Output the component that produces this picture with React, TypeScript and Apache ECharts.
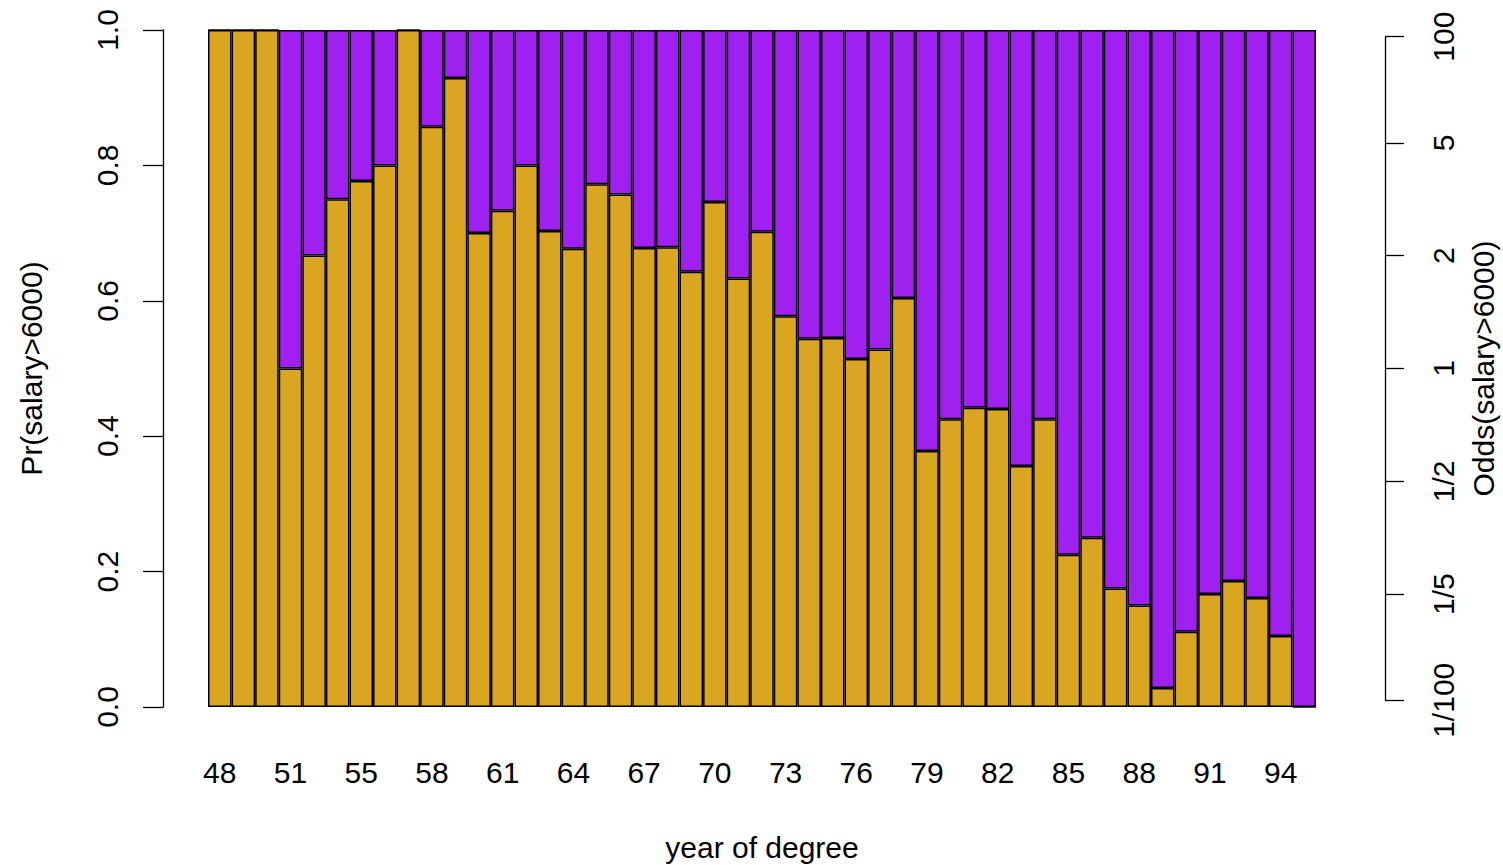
import React, { useEffect, useRef } from "react";
import * as echarts from "echarts";

const years = [
  48, 49, 50, 51, 52, 54, 55, 56, 57, 58, 59, 60, 61, 62, 63, 64, 65, 66, 67, 68, 69, 70, 71, 72,
  73, 74, 75, 76, 77, 78, 79, 80, 81, 82, 83, 84, 85, 86, 87, 88, 89, 90, 91, 92, 93, 94, 95,
];

const highShare = [
  1, 1, 1, 0.5, 0.667, 0.75, 0.777, 0.8, 1, 0.857, 0.929, 0.7, 0.733, 0.8, 0.703, 0.677, 0.772,
  0.757, 0.678, 0.679, 0.643, 0.746, 0.633, 0.702, 0.577, 0.544, 0.545, 0.514, 0.528, 0.604, 0.378,
  0.425, 0.442, 0.44, 0.356, 0.425, 0.225, 0.25, 0.175, 0.15, 0.028, 0.111, 0.167, 0.186, 0.161,
  0.105, 0,
];

const lowShare = highShare.map((v) => +(1 - v).toFixed(3));

const probTicks = [0, 0.2, 0.4, 0.6, 0.8, 1.0];
const oddsTicks = [1 / 100, 1 / 5, 1 / 2, 1, 2, 5, 100];
const oddsLabels = ["1/100", "1/5", "1/2", "1", "2", "5", "100"];

const W = 1503;
const H = 865;
const GRID_LEFT = 208;
const GRID_RIGHT = 187;
const GRID_TOP = 30;
const GRID_HEIGHT = 677;
const FONT = "'Liberation Sans', Arial, Helvetica, sans-serif";
const FS = 30;

export default function App() {
  const ref = useRef<HTMLDivElement>(null);

  useEffect(() => {
    if (!ref.current) return;
    const chart = echarts.init(ref.current, null, { renderer: "svg" });

    const oddsP = oddsTicks.map((o) => o / (1 + o));
    const pMin = oddsP[0];
    const pMax = oddsP[oddsP.length - 1];
    const yOfP = (p: number) => GRID_TOP + GRID_HEIGHT * (1 - p);
    const grid2Top = yOfP(pMax);
    const grid2Height = yOfP(pMin) - yOfP(pMax);

    const option: any = {
      animation: false,
      backgroundColor: "#ffffff",
      textStyle: { fontFamily: FONT, color: "#000" },
      grid: [
        {
          left: GRID_LEFT,
          right: GRID_RIGHT,
          top: GRID_TOP,
          height: GRID_HEIGHT,
          outerBoundsMode: "none",
          containLabel: false,
        },
        {
          left: GRID_LEFT,
          right: GRID_RIGHT,
          top: grid2Top,
          height: grid2Height,
          outerBoundsMode: "none",
          containLabel: false,
        },
      ],
      xAxis: [
        {
          type: "category",
          gridIndex: 0,
          data: years.map(String),
          axisLine: { show: false },
          axisTick: { show: false },
          axisLabel: {
            interval: 2,
            margin: 50,
            fontSize: FS,
            fontFamily: FONT,
            color: "#000",
          },
          name: "year of degree",
          nameLocation: "middle",
          nameGap: 125,
          nameTextStyle: { fontSize: FS, fontFamily: FONT, color: "#000" },
        },
        {
          type: "category",
          gridIndex: 1,
          data: years.map(String),
          show: false,
        },
      ],
      yAxis: [
        {
          type: "value",
          gridIndex: 0,
          min: 0,
          max: 1,
          interval: 0.2,
          position: "left",
          offset: 45,
          axisLine: { show: true, lineStyle: { color: "#000", width: 1.3 } },
          axisTick: {
            show: true,
            length: 20,
            lineStyle: { color: "#000", width: 1.3 },
            customValues: probTicks,
          },
          axisLabel: {
            customValues: probTicks,
            formatter: (v: number) => v.toFixed(1),
            rotate: 90,
            margin: 41,
            fontSize: FS,
            fontFamily: FONT,
            color: "#000",
          },
          splitLine: { show: false },
          name: "Pr(salary>6000)",
          nameLocation: "middle",
          nameGap: 117,
          nameTextStyle: { fontSize: FS, fontFamily: FONT, color: "#000" },
        },
        {
          type: "value",
          gridIndex: 1,
          min: pMin,
          max: pMax,
          position: "right",
          offset: 69,
          axisLine: { show: true, lineStyle: { color: "#000", width: 1.3 } },
          axisTick: {
            show: true,
            length: 19,
            lineStyle: { color: "#000", width: 1.3 },
            customValues: oddsP,
          },
          axisLabel: {
            customValues: oddsP,
            formatter: (v: number) => {
              let best = 0;
              oddsP.forEach((p, i) => {
                if (Math.abs(p - v) < Math.abs(oddsP[best] - v)) best = i;
              });
              return oddsLabels[best];
            },
            rotate: 90,
            margin: 43,
            fontSize: FS,
            fontFamily: FONT,
            color: "#000",
          },
          splitLine: { show: false },
          name: "Odds(salary>6000)",
          nameLocation: "middle",
          nameGap: 83,
          nameTextStyle: { fontSize: FS, fontFamily: FONT, color: "#000" },
        },
      ],
      series: [
        {
          name: "salary>6000",
          type: "bar",
          xAxisIndex: 0,
          yAxisIndex: 0,
          stack: "total",
          data: highShare,
          barCategoryGap: "0%",
          itemStyle: { color: "#DAA520", borderColor: "#000", borderWidth: 1.5 },
        },
        {
          name: "salary<=6000",
          type: "bar",
          xAxisIndex: 0,
          yAxisIndex: 0,
          stack: "total",
          data: lowShare,
          barCategoryGap: "0%",
          itemStyle: { color: "#A020F0", borderColor: "#000", borderWidth: 1.5 },
        },
      ],
    };

    chart.setOption(option);
    return () => chart.dispose();
  }, []);

  return (
    <div
      ref={ref}
      style={{ position: "fixed", left: 0, top: 0, width: W, height: H, background: "#fff" }}
    />
  );
}
